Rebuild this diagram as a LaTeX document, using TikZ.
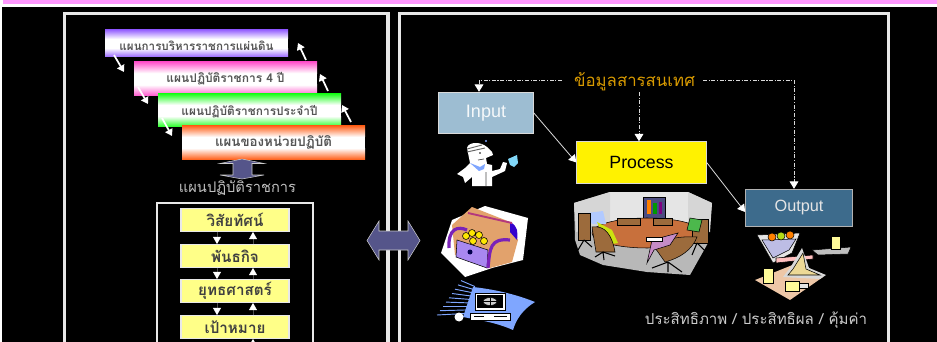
\documentclass[tikz,border=0pt]{standalone}
\usepackage{fontspec}
\setmainfont{Liberation Sans}
\newfontfamily\thaifont[Script=Thai]{Loma}
\usetikzlibrary{arrows.meta,calc}
\definecolor{panelgray}{HTML}{E8E8E8}
\definecolor{txtgray}{HTML}{555555}
\definecolor{slate}{HTML}{55558A}
\definecolor{inputblue}{HTML}{9DBDD2}
\definecolor{outputblue}{HTML}{3D6B8C}
\definecolor{goldtxt}{HTML}{D89A00}
\definecolor{paleyellow}{HTML}{FFFF88}
\definecolor{pinkbar}{HTML}{FF99FF}
\definecolor{chair}{HTML}{9C6B3C}
\definecolor{tabletop}{HTML}{C8703C}
\definecolor{tan}{HTML}{E2A26C}
\definecolor{chest}{HTML}{A888F0}
\definecolor{strap}{HTML}{7A22B8}
\definecolor{sky}{HTML}{7FA6FF}
\definecolor{gradviolet}{HTML}{9966FF}
\definecolor{gradpink}{HTML}{FF55CC}
\definecolor{gradgreen}{HTML}{22FF22}
\definecolor{gradorange}{HTML}{FF6622}
\tikzset{
  x=0.75pt,y=-0.75pt,
  panel/.style={draw=panelgray,line width=2.6pt},
  planbox/.style={minimum width=137pt,inner sep=0pt,font=\thaifont\fontsize{#1}{11pt}\selectfont\bfseries,text=txtgray},
  whitearrow/.style={draw=white,line width=1.3pt,-{Triangle[width=6pt,length=5pt,fill=white]}},
  stepbox/.style={draw=panelgray,line width=0.8pt,fill=paleyellow,minimum width=81pt,minimum height=17pt,inner sep=0pt,font=\thaifont\fontsize{11.4pt}{13pt}\selectfont\bfseries,text=black!75},
  tip/.style={-{Triangle[width=6pt,length=5.5pt,color=white,fill=white]},draw=black!70,line width=0.5pt},
  flowbox/.style={draw=#1,line width=0.8pt,inner sep=0pt},
  flowline/.style={draw=white!85!black,line width=0.6pt,-{Triangle[width=6.5pt,length=5.5pt,color=white,fill=white]}},
  infoline/.style={draw=white!85!black,line width=0.7pt,dash pattern=on 3pt off 1.2pt on 0.8pt off 1.2pt,-{Triangle[width=6.5pt,length=5.5pt,color=white,fill=white]}},
  outl/.style={draw=black,line width=0.4pt}
}
\newcommand{\gradbox}[6]{% name,left,top,right,bottom,colour
  \fill[white] (#2,#3) rectangle (#4,#5);
  \shade[top color=#6,bottom color=white] (#2,#3) rectangle (#4,{#3+0.33*(#5-#3)});
  \shade[top color=white,bottom color=#6] (#2,{#3+0.67*(#5-#3)}) rectangle (#4,#5);
  \coordinate (#1) at ({(#2+#4)/2},{(#3+#5)/2});
}
\begin{document}
\begin{tikzpicture}
\useasboundingbox (0,0) rectangle (937,342);
\fill[white] (0,0) rectangle (937,342);
\fill[black] (2,7) rectangle (937,342);
\fill[pinkbar] (3,0) rectangle (937,4);
\draw[panel] (64.5,345) -- (64.5,13.5) -- (388,13.5) -- (388,345);
\draw[panel] (399.5,345) -- (399.5,13.5) -- (888.5,13.5) -- (888.5,345);
% plan stack
\gradbox{p1}{105}{30}{288}{57}{gradviolet}
\gradbox{p2}{134}{62}{317}{96}{gradpink}
\gradbox{p3}{158}{94}{341}{127}{gradgreen}
\gradbox{p4}{182}{126}{365}{159}{gradorange}
\node[planbox=8.7pt] (t1) at ($(p1)+(0,2.5)$) {แผนการบริหารราชการแผ่นดิน};
\node[planbox=9pt] (t2) at ($(p2)+(0,-0.5)$) {แผนปฏิบัติราชการ 4 ปี};
\node[planbox=8.9pt] (t3) at ($(p3)+(0,1)$) {แผนปฏิบัติราชการประจำปี};
\node[planbox=10pt] (t4) at (p4) {แผนของหน่วยปฏิบัติ};
\coordinate (d1a) at (114,55); \coordinate (d1b) at (124,72);
\coordinate (d2a) at (138,87); \coordinate (d2b) at (148,104);
\coordinate (d3a) at (162,118); \coordinate (d3b) at (172,136);
\coordinate (u1a) at (306,60); \coordinate (u1b) at (298,43);
\coordinate (u2a) at (328,91); \coordinate (u2b) at (320,74);
\coordinate (u3a) at (351,122); \coordinate (u3b) at (342,105);
\draw[whitearrow] (d1a)--(d1b);
\draw[whitearrow] (d2a)--(d2b);
\draw[whitearrow] (d3a)--(d3b);
\draw[whitearrow] (u1a)--(u1b);
\draw[whitearrow] (u2a)--(u2b);
\draw[whitearrow] (u3a)--(u3b);
% vertical double arrow
\draw[fill=slate,draw=white!80!black,line width=0.4pt] (242,159) -- (220,163.5) -- (233,163.5) -- (233,175) -- (220,175) -- (242,179) -- (264,175) -- (252,175) -- (252,163.5) -- (264,163.5) -- cycle;
\node[font=\thaifont\fontsize{11pt}{13pt}\selectfont,text=white!75!black] (lab) at (237.5,188) {แผนปฏิบัติราชการ};
% steps
\draw[draw=panelgray,line width=0.9pt] (157,345) -- (157,203) -- (313,203) -- (313,345);
\node[stepbox] (s1) at (235,220) {วิสัยทัศน์};
\node[stepbox] (s2) at (235,256) {พันธกิจ};
\node[stepbox] (s3) at (235,291) {ยุทธศาสตร์};
\node[stepbox] (s4) at (235,327) {เป้าหมาย};
\foreach \a/\b in {s1/s2,s2/s3,s3/s4}{
  \draw[tip] ([xshift=-13.5pt]\a.south) -- ([xshift=-13.5pt]\b.north);
  \draw[tip] ([xshift=13.5pt]\b.north) -- ([xshift=13.5pt]\a.south);
}
\coordinate (s5) at (253,345);
\draw[tip] (s5) -- ([xshift=13.5pt]s4.south);
% horizontal double arrow
\draw[fill=slate,draw=white!80!black,line width=0.4pt] (367,240.5) -- (379,221) -- (379,231) -- (408,231) -- (408,221) -- (420,240.5) -- (408,260) -- (408,250) -- (379,250) -- (379,260) -- cycle;
% flow
\node[flowbox=white!85!black,fill=inputblue,minimum width=71pt,minimum height=31pt,text=white!90!inputblue,font=\fontsize{13.5pt}{15pt}\selectfont] (input) at (486,113) {Input};
\node[flowbox=white!85!black,fill=yellow,minimum width=97pt,minimum height=31pt,text=black,font=\fontsize{13.3pt}{15pt}\selectfont] (process) at (641.5,162.5) {Process};
\node[flowbox=white!70!black,fill=outputblue,minimum width=80pt,minimum height=28pt,text=white!90!black,font=\fontsize{12.2pt}{14pt}\selectfont] (output) at (799,208) {Output};
\draw[flowline] (input.east) -- (process.west);
\draw[flowline] (process.east) -- ([yshift=-3pt]output.west);
\node[font=\thaifont\fontsize{12.6pt}{15pt}\selectfont,text=goldtxt] (info) at (634.5,82) {ข้อมูลสารสนเทศ};
\coordinate (cl) at (479,80);
\coordinate (cr) at (794,80);
\coordinate (cm) at (639,92);
\coordinate (il) at (562,80);
\coordinate (ir) at (703,80);
\draw[infoline] (il) -- (cl) -- (cl |- input.north);
\draw[infoline] (ir) -- (cr) -- (cr |- output.north);
\draw[infoline] (cm) -- (cm |- process.north);
\node[font=\thaifont\fontsize{11.3pt}{13pt}\selectfont,text=white!80!black] (res) at (756,320) {ประสิทธิภาพ / ประสิทธิผล / คุ้มค่า};
% man
\fill[white] (467,148) .. controls (468,142) and (480,141) .. (487,147) -- (492,152) -- (493,155) -- (486,158) -- (487,164) -- (492,165) -- (492,171) -- (500,169) -- (503,162) -- (507,163) -- (505,171) -- (492,177) -- (492,186) -- (472,186) -- (472,177) -- (465,183) -- (463,177) -- (457,174) -- (465,168) -- (470,163) -- cycle;
\fill[cyan!50!white] (508,159) -- (517,155) -- (518,163) -- (514,167) -- (510,165) -- cycle;
\fill[sky] (470,163) -- (480,167) -- (485,164) -- (484,169) -- (479,171) -- cycle;
\draw[black!60,line width=0.7pt] (467,149) -- (482,145) (467,152) -- (485,148);
\fill[black] (480,153) circle [radius=0.8];
\draw[black!70,line width=0.5pt] (478,160) -- (484,159) (486,172) -- (486,186);
\fill[sky] (486,141) circle [radius=1.2];
% treasure
\fill[white] (441,253) -- (452,220) -- (485,206) -- (528,218) -- (523,260) -- (492,268) -- (465,277) -- cycle;
\fill[tan] (472,207) -- (510,222) -- (518,240) -- (512,262) -- (490,268) -- (455,255) -- (452,225) -- cycle;
\fill[blue!60!violet] (510,222) .. controls (518,226) and (518,232) .. (517,240) -- (510,232) -- cycle;
\fill[chest,outl] (457,240) -- (488,250) -- (487,268) -- (456,257) -- cycle;
\draw[strap,line width=2.4pt] (449,248) .. controls (448,228) and (458,226) .. (467,230);
\draw[strap,line width=2.4pt] (488,268) .. controls (490,248) and (490,238) .. (510,240);
\draw[magenta!70!black,line width=1.4pt] (468,213) -- (512,223);
\fill[yellow!90!orange,outl] (466,236) circle [radius=3.5] (472,233) circle [radius=3.5] (479,235) circle [radius=3.5] (484,241) circle [radius=3.5] (473,241) circle [radius=3.5];
\fill[black!70!blue] (470,252) circle [radius=2.5];
% computer
\fill[sky] (473,287) .. controls (500,290) and (520,296) .. (535,302) .. controls (522,310) and (516,320) .. (513,330) .. controls (495,322) and (478,320) .. (463,317) -- cycle;
\foreach \i in {0,...,8}{\draw[sky,line width=0.7pt] ({437+\i*3},{315-\i*4.3}) -- (475,{313-\i*3.3});}
\fill[white,outl] (475,293) rectangle (505,310);
\fill[black] (477,295) rectangle (503,308);
\fill[white!80!black,outl] (490,301.5) circle [x radius=7,y radius=4];
\draw[black,line width=0.4pt] (483,301.5) -- (497,301.5) (490,297.5) -- (490,305.5);
\fill[white,outl] (470,313) rectangle (510,320);
\draw[black,line width=0.6pt] (474,316.5) -- (484,316.5) (494,316.5) -- (507,316.5);
\fill[white] (459,317) circle [radius=4.5];
% meeting room
\fill[black!28] (574,203) -- (610,192) -- (688,192) -- (712,203) -- (708,243) -- (690,275) -- (647,272) -- (603,265) -- (580,255) -- (575,240) -- cycle;
\fill[black!10] (610,192) -- (688,192) -- (688,224) -- (610,224) -- cycle;
\fill[black!16] (574,203) -- (610,192) -- (610,224) -- (576,232) -- cycle;
\fill[black!16] (712,203) -- (688,192) -- (688,224) -- (710,232) -- cycle;
\fill[black!50!blue!40!gray,outl] (643,197) rectangle (665,222);
\fill[orange] (647,200) rectangle (651,214);
\fill[green!60!black] (653,203) rectangle (657,214);
\fill[violet] (659,202) rectangle (662,214);
\fill[tabletop,outl] (647,233) circle [x radius=55,y radius=15];
\fill[chair,outl] (617,218) rectangle (640,225);
\fill[chair,outl] (653,218) rectangle (672,225);
\fill[sky!60!white] (587,213) -- (603,211) -- (606,224) -- (592,224) -- cycle;
\fill[chair,outl] (578,213) rectangle (590,240);
\draw[black,line width=0.8pt] (584,240) -- (578,250) (584,240) -- (592,247);
\fill[yellow!80!green] (597,222) -- (612,230) -- (618,243) -- (607,245) -- cycle;
\fill[chair,outl] (592,227) .. controls (605,225) and (612,235) .. (615,252) -- (596,252) -- cycle;
\draw[black,line width=0.8pt] (603,252) -- (595,257) (603,252) -- (615,256) (603,252) -- (604,260);
\fill[chair,outl] (692,219) rectangle (708,243);
\draw[black,line width=0.8pt] (697,243) -- (692,255) (697,243) -- (706,252);
\fill[green!60!black!70!white,outl] (690,218) -- (702,220) -- (699,232) -- (687,230) -- cycle;
\fill[chair,outl] (653,245) .. controls (665,238) and (685,236) .. (697,237) .. controls (692,250) and (680,258) .. (665,262) -- cycle;
\draw[black,line width=0.8pt] (668,262) -- (652,268) (668,262) -- (682,272) (668,262) -- (668,272);
\fill[violet!45!white,outl] (647,263) -- (652,240) -- (678,233) -- (670,245) -- (654,250) -- cycle;
\fill[white,outl] (646,237) rectangle (662,241);
% scales
\fill[tan!60!white] (755,280) -- (800,262) -- (823,277) -- (790,300) -- cycle;
\fill[black!10,outl] (757,235) -- (800,233) -- (792,253) -- (773,263) -- cycle;
\fill[blue!20!white!80!gray,outl] (762,240) -- (796,239) -- (789,250) -- (773,258) -- cycle;
\fill[orange,outl] (772,237) circle [radius=4] (790,235) circle [radius=4];
\fill[yellow!70!green,outl] (781,236) circle [radius=4];
\fill[red!25!white,outl] (776,258) -- (776,263) -- (813,259) -- (813,255) -- cycle;
\fill[white!85!black] (783,277) -- (790,268) -- (802,248) -- (809,268) -- (826,275) -- (820,279) -- cycle;
\fill[yellow!40!brown!50!white,outl] (788,275) -- (793,269) -- (803,253) -- (806,269) -- (820,275) -- cycle;
\fill[white!75!black,outl] (812,250) -- (851,247) -- (848,254) -- (818,255) -- cycle;
\fill[yellow!40!white,outl] (831,236) rectangle (840,249);
\fill[yellow!40!white,outl] (763,268) rectangle (773,283);
\fill[yellow!40!white,outl] (785,281) rectangle (799,291);
\fill[white!90!black,outl] (799,283) rectangle (808,288);
\end{tikzpicture}
\end{document}
